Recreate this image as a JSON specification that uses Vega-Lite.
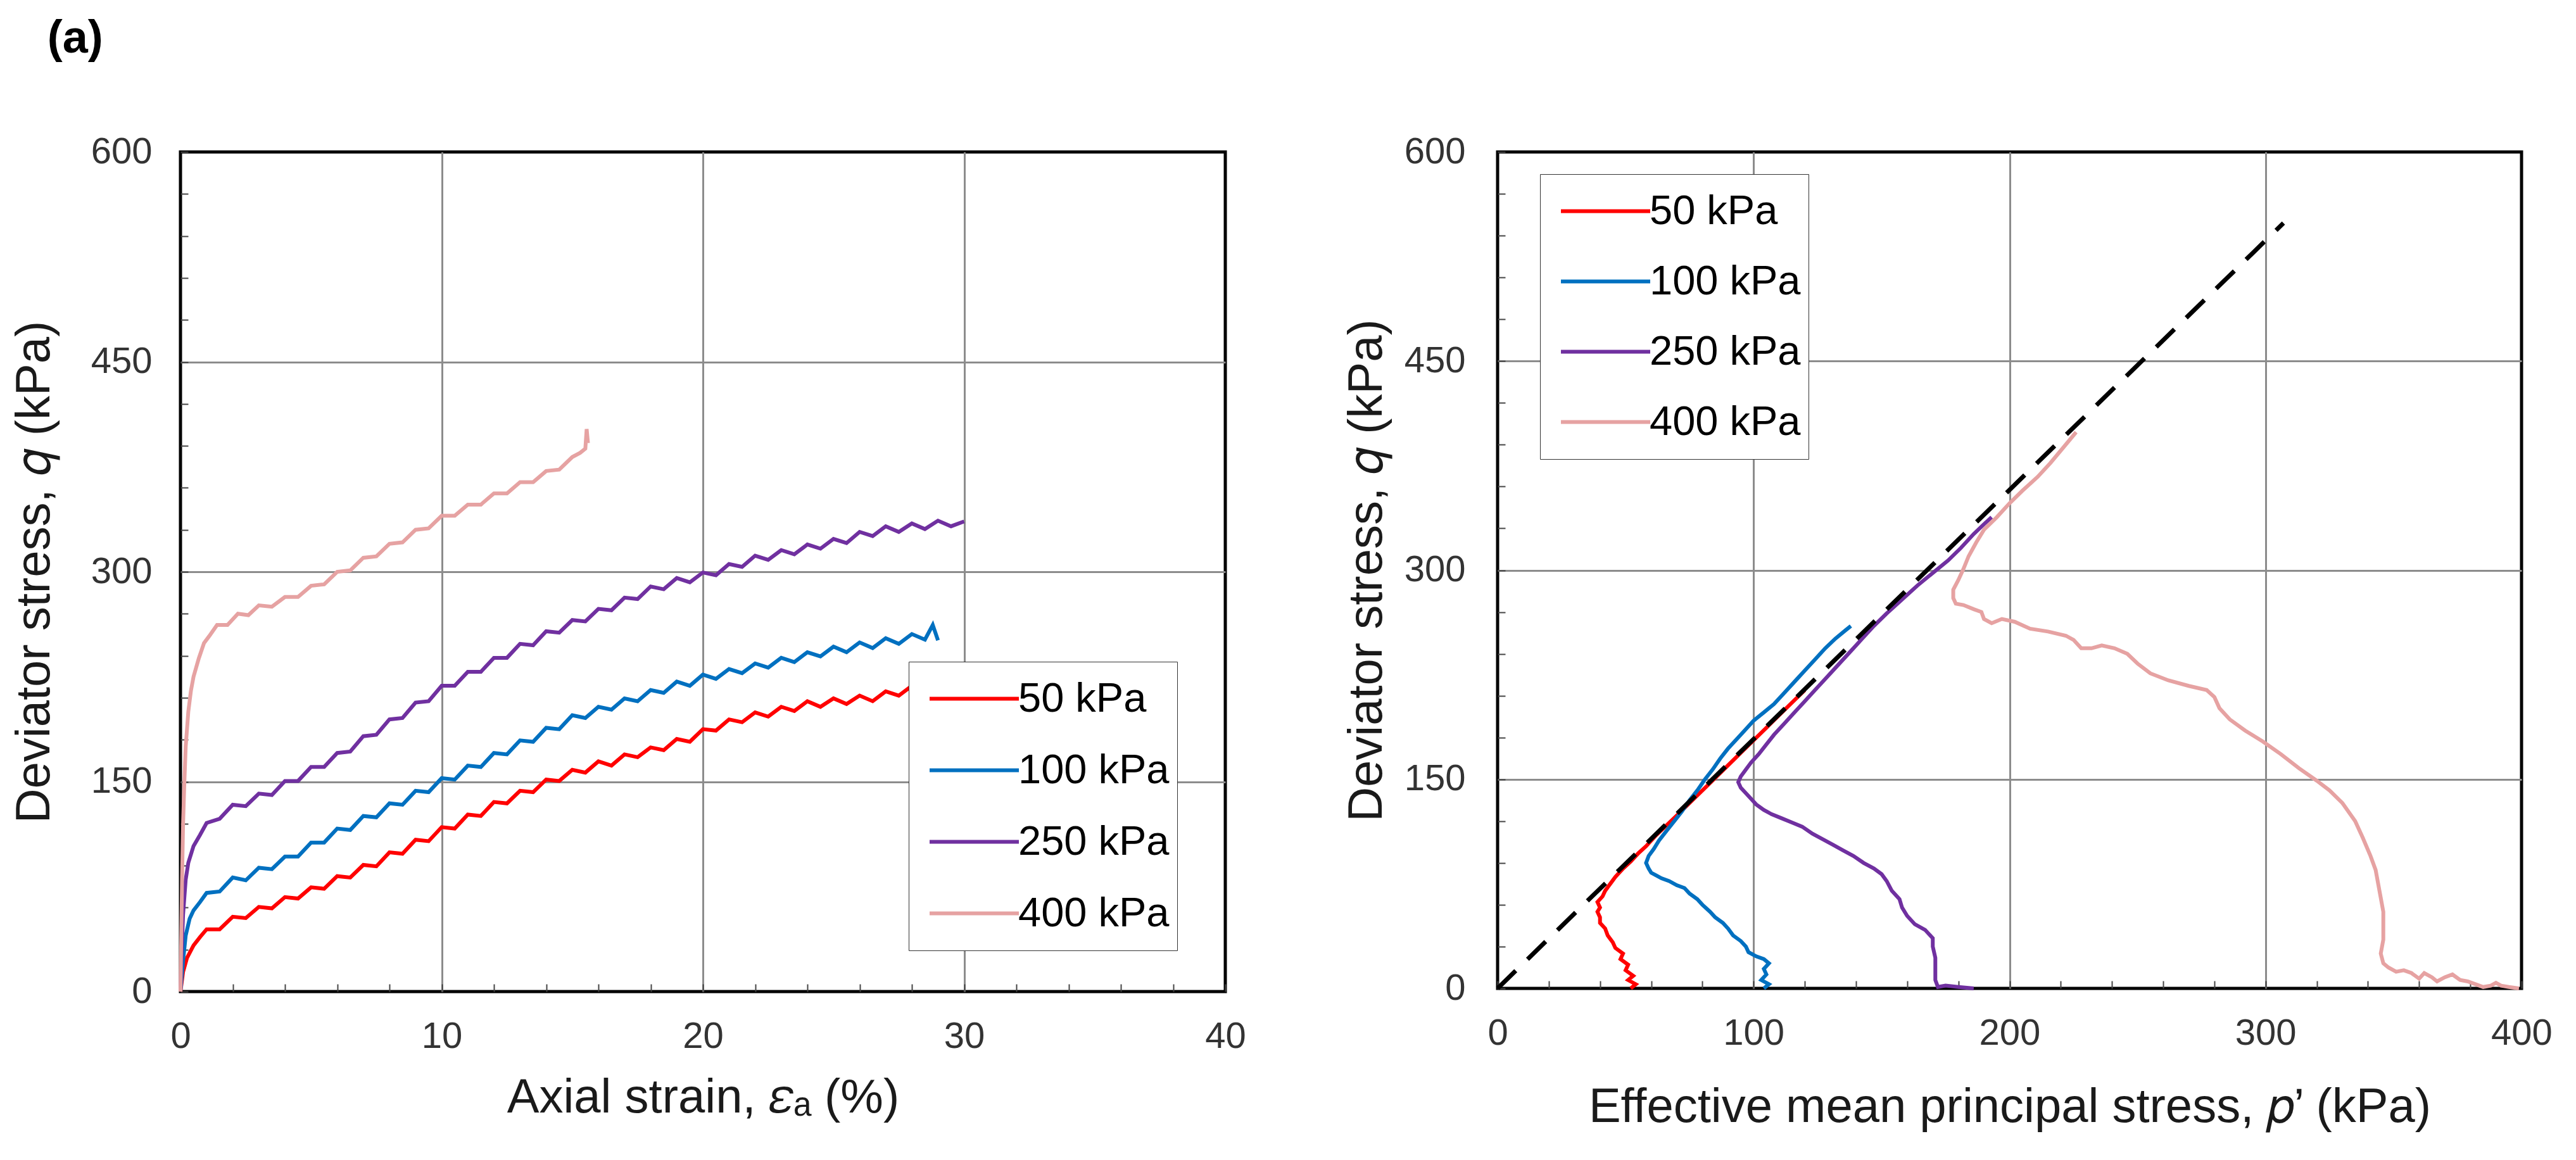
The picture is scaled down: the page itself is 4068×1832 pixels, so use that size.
{
  "$schema": "https://vega.github.io/schema/vega-lite/v6.json",
  "background": "white",
  "padding": {"left": 13, "top": 24, "right": 20, "bottom": 20},
  "title": {
    "text": "(a)",
    "anchor": "start",
    "font": "Liberation Sans",
    "fontSize": 72,
    "fontWeight": "bold",
    "color": "black",
    "dx": 61,
    "offset": 111
  },
  "datasets": {
    "axial": [
      {"test": "50 kPa", "strain": 0, "q": 0}, {"test": "50 kPa", "strain": 0.1, "q": 14}, {"test": "50 kPa", "strain": 0.25, "q": 24}, {"test": "50 kPa", "strain": 0.5, "q": 33}, {"test": "50 kPa", "strain": 0.75, "q": 39}, {"test": "50 kPa", "strain": 1, "q": 44.5}, {"test": "50 kPa", "strain": 1.5, "q": 44.5}, {"test": "50 kPa", "strain": 2, "q": 53.5}, {"test": "50 kPa", "strain": 2.5, "q": 52.5}, {"test": "50 kPa", "strain": 3, "q": 60.5}, {"test": "50 kPa", "strain": 3.5, "q": 59.5}, {"test": "50 kPa", "strain": 4, "q": 67.5}, {"test": "50 kPa", "strain": 4.5, "q": 66.5}, {"test": "50 kPa", "strain": 5, "q": 74.5}, {"test": "50 kPa", "strain": 5.5, "q": 73.5}, {"test": "50 kPa", "strain": 6, "q": 82.5}, {"test": "50 kPa", "strain": 6.5, "q": 81.5}, {"test": "50 kPa", "strain": 7, "q": 90.5}, {"test": "50 kPa", "strain": 7.5, "q": 89.5}, {"test": "50 kPa", "strain": 8, "q": 99.5}, {"test": "50 kPa", "strain": 8.5, "q": 98.5}, {"test": "50 kPa", "strain": 9, "q": 108.5}, {"test": "50 kPa", "strain": 9.5, "q": 107.5}, {"test": "50 kPa", "strain": 10, "q": 117.5}, {"test": "50 kPa", "strain": 10.5, "q": 116.5}, {"test": "50 kPa", "strain": 11, "q": 126.5}, {"test": "50 kPa", "strain": 11.5, "q": 125.5}, {"test": "50 kPa", "strain": 12, "q": 135.5}, {"test": "50 kPa", "strain": 12.5, "q": 134.5}, {"test": "50 kPa", "strain": 13, "q": 143.5}, {"test": "50 kPa", "strain": 13.5, "q": 142.5}, {"test": "50 kPa", "strain": 14, "q": 151.5}, {"test": "50 kPa", "strain": 14.5, "q": 150.5}, {"test": "50 kPa", "strain": 15, "q": 158.5}, {"test": "50 kPa", "strain": 15.5, "q": 156.5}, {"test": "50 kPa", "strain": 16, "q": 164.5}, {"test": "50 kPa", "strain": 16.5, "q": 161.5}, {"test": "50 kPa", "strain": 17, "q": 169.5}, {"test": "50 kPa", "strain": 17.5, "q": 167.5}, {"test": "50 kPa", "strain": 18, "q": 174.5}, {"test": "50 kPa", "strain": 18.5, "q": 172.5}, {"test": "50 kPa", "strain": 19, "q": 180.5}, {"test": "50 kPa", "strain": 19.5, "q": 178.5}, {"test": "50 kPa", "strain": 20, "q": 187.5}, {"test": "50 kPa", "strain": 20.5, "q": 186.5}, {"test": "50 kPa", "strain": 21, "q": 194.5}, {"test": "50 kPa", "strain": 21.5, "q": 192.5}, {"test": "50 kPa", "strain": 22, "q": 199.5}, {"test": "50 kPa", "strain": 22.5, "q": 196.5}, {"test": "50 kPa", "strain": 23, "q": 203.5}, {"test": "50 kPa", "strain": 23.5, "q": 200.5}, {"test": "50 kPa", "strain": 24, "q": 207.5}, {"test": "50 kPa", "strain": 24.5, "q": 203.5}, {"test": "50 kPa", "strain": 25, "q": 209.5}, {"test": "50 kPa", "strain": 25.5, "q": 205.5}, {"test": "50 kPa", "strain": 26, "q": 211.5}, {"test": "50 kPa", "strain": 26.5, "q": 207.5}, {"test": "50 kPa", "strain": 27, "q": 214.5}, {"test": "50 kPa", "strain": 27.5, "q": 211.5}, {"test": "50 kPa", "strain": 28, "q": 218.5}, {"test": "50 kPa", "strain": 28.5, "q": 215.5}, {"test": "50 kPa", "strain": 29, "q": 222},
      {"test": "100 kPa", "strain": 0, "q": 0}, {"test": "100 kPa", "strain": 0.1, "q": 22}, {"test": "100 kPa", "strain": 0.2, "q": 40}, {"test": "100 kPa", "strain": 0.35, "q": 52}, {"test": "100 kPa", "strain": 0.5, "q": 58}, {"test": "100 kPa", "strain": 0.75, "q": 64}, {"test": "100 kPa", "strain": 1, "q": 70.5}, {"test": "100 kPa", "strain": 1.5, "q": 71.5}, {"test": "100 kPa", "strain": 2, "q": 81.5}, {"test": "100 kPa", "strain": 2.5, "q": 79.5}, {"test": "100 kPa", "strain": 3, "q": 88.5}, {"test": "100 kPa", "strain": 3.5, "q": 87.5}, {"test": "100 kPa", "strain": 4, "q": 96.5}, {"test": "100 kPa", "strain": 4.5, "q": 96.5}, {"test": "100 kPa", "strain": 5, "q": 106.5}, {"test": "100 kPa", "strain": 5.5, "q": 106.5}, {"test": "100 kPa", "strain": 6, "q": 116.5}, {"test": "100 kPa", "strain": 6.5, "q": 115.5}, {"test": "100 kPa", "strain": 7, "q": 125.5}, {"test": "100 kPa", "strain": 7.5, "q": 124.5}, {"test": "100 kPa", "strain": 8, "q": 134.5}, {"test": "100 kPa", "strain": 8.5, "q": 133.5}, {"test": "100 kPa", "strain": 9, "q": 143.5}, {"test": "100 kPa", "strain": 9.5, "q": 142.5}, {"test": "100 kPa", "strain": 10, "q": 152.5}, {"test": "100 kPa", "strain": 10.5, "q": 151.5}, {"test": "100 kPa", "strain": 11, "q": 161.5}, {"test": "100 kPa", "strain": 11.5, "q": 160.5}, {"test": "100 kPa", "strain": 12, "q": 170.5}, {"test": "100 kPa", "strain": 12.5, "q": 169.5}, {"test": "100 kPa", "strain": 13, "q": 179.5}, {"test": "100 kPa", "strain": 13.5, "q": 178.5}, {"test": "100 kPa", "strain": 14, "q": 188.5}, {"test": "100 kPa", "strain": 14.5, "q": 187.5}, {"test": "100 kPa", "strain": 15, "q": 197.5}, {"test": "100 kPa", "strain": 15.5, "q": 195.5}, {"test": "100 kPa", "strain": 16, "q": 203.5}, {"test": "100 kPa", "strain": 16.5, "q": 201.5}, {"test": "100 kPa", "strain": 17, "q": 209.5}, {"test": "100 kPa", "strain": 17.5, "q": 207.5}, {"test": "100 kPa", "strain": 18, "q": 215.5}, {"test": "100 kPa", "strain": 18.5, "q": 213.5}, {"test": "100 kPa", "strain": 19, "q": 221.5}, {"test": "100 kPa", "strain": 19.5, "q": 218.5}, {"test": "100 kPa", "strain": 20, "q": 226.5}, {"test": "100 kPa", "strain": 20.5, "q": 223.5}, {"test": "100 kPa", "strain": 21, "q": 230.5}, {"test": "100 kPa", "strain": 21.5, "q": 227.5}, {"test": "100 kPa", "strain": 22, "q": 234.5}, {"test": "100 kPa", "strain": 22.5, "q": 231.5}, {"test": "100 kPa", "strain": 23, "q": 238.5}, {"test": "100 kPa", "strain": 23.5, "q": 235.5}, {"test": "100 kPa", "strain": 24, "q": 242.5}, {"test": "100 kPa", "strain": 24.5, "q": 239.5}, {"test": "100 kPa", "strain": 25, "q": 246.5}, {"test": "100 kPa", "strain": 25.5, "q": 242.5}, {"test": "100 kPa", "strain": 26, "q": 249.5}, {"test": "100 kPa", "strain": 26.5, "q": 245.5}, {"test": "100 kPa", "strain": 27, "q": 252.5}, {"test": "100 kPa", "strain": 27.5, "q": 248.5}, {"test": "100 kPa", "strain": 28, "q": 255.5}, {"test": "100 kPa", "strain": 28.5, "q": 251.5}, {"test": "100 kPa", "strain": 28.8, "q": 262}, {"test": "100 kPa", "strain": 29, "q": 251},
      {"test": "250 kPa", "strain": 0, "q": 0}, {"test": "250 kPa", "strain": 0.05, "q": 30}, {"test": "250 kPa", "strain": 0.1, "q": 55}, {"test": "250 kPa", "strain": 0.2, "q": 80}, {"test": "250 kPa", "strain": 0.3, "q": 92}, {"test": "250 kPa", "strain": 0.5, "q": 104}, {"test": "250 kPa", "strain": 0.75, "q": 112}, {"test": "250 kPa", "strain": 1, "q": 120.5}, {"test": "250 kPa", "strain": 1.5, "q": 123.5}, {"test": "250 kPa", "strain": 2, "q": 133.5}, {"test": "250 kPa", "strain": 2.5, "q": 132.5}, {"test": "250 kPa", "strain": 3, "q": 141.5}, {"test": "250 kPa", "strain": 3.5, "q": 140.5}, {"test": "250 kPa", "strain": 4, "q": 150.5}, {"test": "250 kPa", "strain": 4.5, "q": 150.5}, {"test": "250 kPa", "strain": 5, "q": 160.5}, {"test": "250 kPa", "strain": 5.5, "q": 160.5}, {"test": "250 kPa", "strain": 6, "q": 170.5}, {"test": "250 kPa", "strain": 6.5, "q": 171.5}, {"test": "250 kPa", "strain": 7, "q": 182.5}, {"test": "250 kPa", "strain": 7.5, "q": 183.5}, {"test": "250 kPa", "strain": 8, "q": 194.5}, {"test": "250 kPa", "strain": 8.5, "q": 195.5}, {"test": "250 kPa", "strain": 9, "q": 206.5}, {"test": "250 kPa", "strain": 9.5, "q": 207.5}, {"test": "250 kPa", "strain": 10, "q": 218.5}, {"test": "250 kPa", "strain": 10.5, "q": 218.5}, {"test": "250 kPa", "strain": 11, "q": 228.5}, {"test": "250 kPa", "strain": 11.5, "q": 228.5}, {"test": "250 kPa", "strain": 12, "q": 238.5}, {"test": "250 kPa", "strain": 12.5, "q": 238.5}, {"test": "250 kPa", "strain": 13, "q": 248.5}, {"test": "250 kPa", "strain": 13.5, "q": 247.5}, {"test": "250 kPa", "strain": 14, "q": 257.5}, {"test": "250 kPa", "strain": 14.5, "q": 256.5}, {"test": "250 kPa", "strain": 15, "q": 265.5}, {"test": "250 kPa", "strain": 15.5, "q": 264.5}, {"test": "250 kPa", "strain": 16, "q": 273.5}, {"test": "250 kPa", "strain": 16.5, "q": 272.5}, {"test": "250 kPa", "strain": 17, "q": 281.5}, {"test": "250 kPa", "strain": 17.5, "q": 280.5}, {"test": "250 kPa", "strain": 18, "q": 289.5}, {"test": "250 kPa", "strain": 18.5, "q": 287.5}, {"test": "250 kPa", "strain": 19, "q": 295.5}, {"test": "250 kPa", "strain": 19.5, "q": 292.5}, {"test": "250 kPa", "strain": 20, "q": 299.5}, {"test": "250 kPa", "strain": 20.5, "q": 297.5}, {"test": "250 kPa", "strain": 21, "q": 305.5}, {"test": "250 kPa", "strain": 21.5, "q": 303.5}, {"test": "250 kPa", "strain": 22, "q": 311.5}, {"test": "250 kPa", "strain": 22.5, "q": 308.5}, {"test": "250 kPa", "strain": 23, "q": 315.5}, {"test": "250 kPa", "strain": 23.5, "q": 312.5}, {"test": "250 kPa", "strain": 24, "q": 319.5}, {"test": "250 kPa", "strain": 24.5, "q": 316.5}, {"test": "250 kPa", "strain": 25, "q": 323.5}, {"test": "250 kPa", "strain": 25.5, "q": 320.5}, {"test": "250 kPa", "strain": 26, "q": 328.5}, {"test": "250 kPa", "strain": 26.5, "q": 325.5}, {"test": "250 kPa", "strain": 27, "q": 332.5}, {"test": "250 kPa", "strain": 27.5, "q": 328.5}, {"test": "250 kPa", "strain": 28, "q": 334.5}, {"test": "250 kPa", "strain": 28.5, "q": 330.5}, {"test": "250 kPa", "strain": 29, "q": 336.5}, {"test": "250 kPa", "strain": 29.5, "q": 332.5}, {"test": "250 kPa", "strain": 30, "q": 336},
      {"test": "400 kPa", "strain": 0, "q": 0}, {"test": "400 kPa", "strain": 0.03, "q": 40}, {"test": "400 kPa", "strain": 0.06, "q": 80}, {"test": "400 kPa", "strain": 0.1, "q": 120}, {"test": "400 kPa", "strain": 0.15, "q": 150}, {"test": "400 kPa", "strain": 0.2, "q": 175}, {"test": "400 kPa", "strain": 0.3, "q": 200}, {"test": "400 kPa", "strain": 0.4, "q": 215}, {"test": "400 kPa", "strain": 0.5, "q": 225}, {"test": "400 kPa", "strain": 0.7, "q": 238}, {"test": "400 kPa", "strain": 0.9, "q": 249}, {"test": "400 kPa", "strain": 1.1, "q": 254}, {"test": "400 kPa", "strain": 1.4, "q": 262}, {"test": "400 kPa", "strain": 1.8, "q": 262}, {"test": "400 kPa", "strain": 2.2, "q": 270}, {"test": "400 kPa", "strain": 2.6, "q": 269}, {"test": "400 kPa", "strain": 3, "q": 276}, {"test": "400 kPa", "strain": 3.5, "q": 275}, {"test": "400 kPa", "strain": 4, "q": 282}, {"test": "400 kPa", "strain": 4.5, "q": 282}, {"test": "400 kPa", "strain": 5, "q": 290}, {"test": "400 kPa", "strain": 5.5, "q": 291}, {"test": "400 kPa", "strain": 6, "q": 300}, {"test": "400 kPa", "strain": 6.5, "q": 301}, {"test": "400 kPa", "strain": 7, "q": 310}, {"test": "400 kPa", "strain": 7.5, "q": 311}, {"test": "400 kPa", "strain": 8, "q": 320}, {"test": "400 kPa", "strain": 8.5, "q": 321}, {"test": "400 kPa", "strain": 9, "q": 330}, {"test": "400 kPa", "strain": 9.5, "q": 331}, {"test": "400 kPa", "strain": 10, "q": 340}, {"test": "400 kPa", "strain": 10.5, "q": 340}, {"test": "400 kPa", "strain": 11, "q": 348}, {"test": "400 kPa", "strain": 11.5, "q": 348}, {"test": "400 kPa", "strain": 12, "q": 356}, {"test": "400 kPa", "strain": 12.5, "q": 356}, {"test": "400 kPa", "strain": 13, "q": 364}, {"test": "400 kPa", "strain": 13.5, "q": 364}, {"test": "400 kPa", "strain": 14, "q": 372}, {"test": "400 kPa", "strain": 14.5, "q": 373}, {"test": "400 kPa", "strain": 15, "q": 382}, {"test": "400 kPa", "strain": 15.3, "q": 385}, {"test": "400 kPa", "strain": 15.5, "q": 388}, {"test": "400 kPa", "strain": 15.55, "q": 402}, {"test": "400 kPa", "strain": 15.6, "q": 392}
    ],
    "path": [
      {"test": "50 kPa", "p": 52, "q": 0}, {"test": "50 kPa", "p": 54, "q": 3}, {"test": "50 kPa", "p": 51, "q": 6}, {"test": "50 kPa", "p": 53, "q": 9}, {"test": "50 kPa", "p": 50, "q": 13}, {"test": "50 kPa", "p": 51, "q": 17}, {"test": "50 kPa", "p": 48, "q": 21}, {"test": "50 kPa", "p": 49, "q": 25}, {"test": "50 kPa", "p": 46, "q": 29}, {"test": "50 kPa", "p": 45, "q": 33}, {"test": "50 kPa", "p": 43, "q": 38}, {"test": "50 kPa", "p": 42, "q": 43}, {"test": "50 kPa", "p": 40, "q": 47}, {"test": "50 kPa", "p": 40, "q": 51}, {"test": "50 kPa", "p": 39, "q": 55}, {"test": "50 kPa", "p": 40, "q": 58}, {"test": "50 kPa", "p": 39, "q": 62}, {"test": "50 kPa", "p": 41, "q": 66}, {"test": "50 kPa", "p": 42, "q": 70}, {"test": "50 kPa", "p": 44, "q": 75}, {"test": "50 kPa", "p": 46, "q": 80}, {"test": "50 kPa", "p": 49, "q": 86}, {"test": "50 kPa", "p": 52, "q": 91}, {"test": "50 kPa", "p": 55, "q": 97}, {"test": "50 kPa", "p": 58, "q": 102}, {"test": "50 kPa", "p": 62, "q": 110}, {"test": "50 kPa", "p": 66, "q": 117}, {"test": "50 kPa", "p": 70, "q": 124}, {"test": "50 kPa", "p": 75, "q": 133}, {"test": "50 kPa", "p": 80, "q": 142}, {"test": "50 kPa", "p": 85, "q": 151}, {"test": "50 kPa", "p": 90, "q": 160}, {"test": "50 kPa", "p": 95, "q": 169}, {"test": "50 kPa", "p": 100, "q": 178}, {"test": "50 kPa", "p": 105, "q": 187}, {"test": "50 kPa", "p": 110, "q": 196}, {"test": "50 kPa", "p": 115, "q": 205}, {"test": "50 kPa", "p": 120, "q": 214},
      {"test": "100 kPa", "p": 104, "q": 0}, {"test": "100 kPa", "p": 106, "q": 3}, {"test": "100 kPa", "p": 103, "q": 6}, {"test": "100 kPa", "p": 105, "q": 10}, {"test": "100 kPa", "p": 104, "q": 14}, {"test": "100 kPa", "p": 106, "q": 18}, {"test": "100 kPa", "p": 104, "q": 21}, {"test": "100 kPa", "p": 101, "q": 23}, {"test": "100 kPa", "p": 98, "q": 26}, {"test": "100 kPa", "p": 97, "q": 30}, {"test": "100 kPa", "p": 95, "q": 34}, {"test": "100 kPa", "p": 92, "q": 38}, {"test": "100 kPa", "p": 90, "q": 43}, {"test": "100 kPa", "p": 88, "q": 47}, {"test": "100 kPa", "p": 85, "q": 51}, {"test": "100 kPa", "p": 83, "q": 55}, {"test": "100 kPa", "p": 80, "q": 60}, {"test": "100 kPa", "p": 78, "q": 64}, {"test": "100 kPa", "p": 75, "q": 68}, {"test": "100 kPa", "p": 73, "q": 72}, {"test": "100 kPa", "p": 70, "q": 74}, {"test": "100 kPa", "p": 67, "q": 77}, {"test": "100 kPa", "p": 64, "q": 79}, {"test": "100 kPa", "p": 62, "q": 81}, {"test": "100 kPa", "p": 60, "q": 83}, {"test": "100 kPa", "p": 59, "q": 86}, {"test": "100 kPa", "p": 58, "q": 90}, {"test": "100 kPa", "p": 59, "q": 95}, {"test": "100 kPa", "p": 61, "q": 100}, {"test": "100 kPa", "p": 63, "q": 106}, {"test": "100 kPa", "p": 66, "q": 113}, {"test": "100 kPa", "p": 69, "q": 120}, {"test": "100 kPa", "p": 72, "q": 127}, {"test": "100 kPa", "p": 75, "q": 135}, {"test": "100 kPa", "p": 78, "q": 142}, {"test": "100 kPa", "p": 81, "q": 150}, {"test": "100 kPa", "p": 84, "q": 157}, {"test": "100 kPa", "p": 87, "q": 165}, {"test": "100 kPa", "p": 90, "q": 172}, {"test": "100 kPa", "p": 94, "q": 180}, {"test": "100 kPa", "p": 97, "q": 186}, {"test": "100 kPa", "p": 100, "q": 192}, {"test": "100 kPa", "p": 104, "q": 198}, {"test": "100 kPa", "p": 108, "q": 204}, {"test": "100 kPa", "p": 112, "q": 212}, {"test": "100 kPa", "p": 116, "q": 220}, {"test": "100 kPa", "p": 120, "q": 228}, {"test": "100 kPa", "p": 124, "q": 236}, {"test": "100 kPa", "p": 128, "q": 244}, {"test": "100 kPa", "p": 132, "q": 251}, {"test": "100 kPa", "p": 136, "q": 257}, {"test": "100 kPa", "p": 138, "q": 260},
      {"test": "250 kPa", "p": 186, "q": 0}, {"test": "250 kPa", "p": 180, "q": 1}, {"test": "250 kPa", "p": 175, "q": 2}, {"test": "250 kPa", "p": 172, "q": 1}, {"test": "250 kPa", "p": 171, "q": 6}, {"test": "250 kPa", "p": 171, "q": 14}, {"test": "250 kPa", "p": 171, "q": 22}, {"test": "250 kPa", "p": 170, "q": 30}, {"test": "250 kPa", "p": 170, "q": 36}, {"test": "250 kPa", "p": 167, "q": 42}, {"test": "250 kPa", "p": 163, "q": 46}, {"test": "250 kPa", "p": 160, "q": 52}, {"test": "250 kPa", "p": 158, "q": 58}, {"test": "250 kPa", "p": 157, "q": 64}, {"test": "250 kPa", "p": 154, "q": 70}, {"test": "250 kPa", "p": 152, "q": 77}, {"test": "250 kPa", "p": 150, "q": 82}, {"test": "250 kPa", "p": 147, "q": 86}, {"test": "250 kPa", "p": 143, "q": 90}, {"test": "250 kPa", "p": 139, "q": 95}, {"test": "250 kPa", "p": 135, "q": 99}, {"test": "250 kPa", "p": 131, "q": 103}, {"test": "250 kPa", "p": 127, "q": 107}, {"test": "250 kPa", "p": 123, "q": 111}, {"test": "250 kPa", "p": 119, "q": 116}, {"test": "250 kPa", "p": 115, "q": 119}, {"test": "250 kPa", "p": 111, "q": 122}, {"test": "250 kPa", "p": 107, "q": 125}, {"test": "250 kPa", "p": 104, "q": 128}, {"test": "250 kPa", "p": 101, "q": 132}, {"test": "250 kPa", "p": 99, "q": 136}, {"test": "250 kPa", "p": 97, "q": 140}, {"test": "250 kPa", "p": 95, "q": 144}, {"test": "250 kPa", "p": 94, "q": 148}, {"test": "250 kPa", "p": 95, "q": 152}, {"test": "250 kPa", "p": 97, "q": 157}, {"test": "250 kPa", "p": 99, "q": 162}, {"test": "250 kPa", "p": 102, "q": 168}, {"test": "250 kPa", "p": 105, "q": 175}, {"test": "250 kPa", "p": 108, "q": 182}, {"test": "250 kPa", "p": 112, "q": 190}, {"test": "250 kPa", "p": 116, "q": 198}, {"test": "250 kPa", "p": 120, "q": 206}, {"test": "250 kPa", "p": 124, "q": 214}, {"test": "250 kPa", "p": 128, "q": 222}, {"test": "250 kPa", "p": 132, "q": 230}, {"test": "250 kPa", "p": 137, "q": 240}, {"test": "250 kPa", "p": 142, "q": 250}, {"test": "250 kPa", "p": 147, "q": 260}, {"test": "250 kPa", "p": 152, "q": 269}, {"test": "250 kPa", "p": 158, "q": 279}, {"test": "250 kPa", "p": 164, "q": 289}, {"test": "250 kPa", "p": 170, "q": 298}, {"test": "250 kPa", "p": 176, "q": 307}, {"test": "250 kPa", "p": 181, "q": 316}, {"test": "250 kPa", "p": 186, "q": 326}, {"test": "250 kPa", "p": 190, "q": 333}, {"test": "250 kPa", "p": 193, "q": 338},
      {"test": "400 kPa", "p": 399, "q": 0}, {"test": "400 kPa", "p": 395, "q": 1}, {"test": "400 kPa", "p": 392, "q": 2}, {"test": "400 kPa", "p": 390, "q": 4}, {"test": "400 kPa", "p": 388, "q": 2}, {"test": "400 kPa", "p": 385, "q": 1}, {"test": "400 kPa", "p": 382, "q": 3}, {"test": "400 kPa", "p": 379, "q": 5}, {"test": "400 kPa", "p": 376, "q": 6}, {"test": "400 kPa", "p": 373, "q": 10}, {"test": "400 kPa", "p": 370, "q": 8}, {"test": "400 kPa", "p": 367, "q": 5}, {"test": "400 kPa", "p": 365, "q": 8}, {"test": "400 kPa", "p": 362, "q": 11}, {"test": "400 kPa", "p": 360, "q": 7}, {"test": "400 kPa", "p": 357, "q": 11}, {"test": "400 kPa", "p": 354, "q": 13}, {"test": "400 kPa", "p": 351, "q": 12}, {"test": "400 kPa", "p": 348, "q": 15}, {"test": "400 kPa", "p": 346, "q": 18}, {"test": "400 kPa", "p": 345, "q": 25}, {"test": "400 kPa", "p": 346, "q": 35}, {"test": "400 kPa", "p": 346, "q": 45}, {"test": "400 kPa", "p": 346, "q": 55}, {"test": "400 kPa", "p": 345, "q": 65}, {"test": "400 kPa", "p": 344, "q": 75}, {"test": "400 kPa", "p": 343, "q": 85}, {"test": "400 kPa", "p": 341, "q": 95}, {"test": "400 kPa", "p": 338, "q": 108}, {"test": "400 kPa", "p": 335, "q": 120}, {"test": "400 kPa", "p": 330, "q": 133}, {"test": "400 kPa", "p": 325, "q": 142}, {"test": "400 kPa", "p": 320, "q": 149}, {"test": "400 kPa", "p": 313, "q": 158}, {"test": "400 kPa", "p": 306, "q": 168}, {"test": "400 kPa", "p": 299, "q": 177}, {"test": "400 kPa", "p": 292, "q": 185}, {"test": "400 kPa", "p": 286, "q": 193}, {"test": "400 kPa", "p": 282, "q": 201}, {"test": "400 kPa", "p": 280, "q": 209}, {"test": "400 kPa", "p": 277, "q": 214}, {"test": "400 kPa", "p": 270, "q": 217}, {"test": "400 kPa", "p": 262, "q": 221}, {"test": "400 kPa", "p": 255, "q": 226}, {"test": "400 kPa", "p": 250, "q": 233}, {"test": "400 kPa", "p": 246, "q": 240}, {"test": "400 kPa", "p": 241, "q": 244}, {"test": "400 kPa", "p": 236, "q": 246}, {"test": "400 kPa", "p": 232, "q": 244}, {"test": "400 kPa", "p": 228, "q": 244}, {"test": "400 kPa", "p": 225, "q": 250}, {"test": "400 kPa", "p": 222, "q": 253}, {"test": "400 kPa", "p": 215, "q": 256}, {"test": "400 kPa", "p": 208, "q": 258}, {"test": "400 kPa", "p": 202, "q": 263}, {"test": "400 kPa", "p": 197, "q": 265}, {"test": "400 kPa", "p": 193, "q": 262}, {"test": "400 kPa", "p": 190, "q": 265}, {"test": "400 kPa", "p": 189, "q": 270}, {"test": "400 kPa", "p": 186, "q": 272}, {"test": "400 kPa", "p": 182, "q": 275}, {"test": "400 kPa", "p": 179, "q": 276}, {"test": "400 kPa", "p": 178, "q": 280}, {"test": "400 kPa", "p": 178, "q": 286}, {"test": "400 kPa", "p": 180, "q": 293}, {"test": "400 kPa", "p": 182, "q": 301}, {"test": "400 kPa", "p": 184, "q": 310}, {"test": "400 kPa", "p": 187, "q": 320}, {"test": "400 kPa", "p": 190, "q": 329}, {"test": "400 kPa", "p": 195, "q": 338}, {"test": "400 kPa", "p": 200, "q": 348}, {"test": "400 kPa", "p": 205, "q": 357}, {"test": "400 kPa", "p": 211, "q": 367}, {"test": "400 kPa", "p": 216, "q": 377}, {"test": "400 kPa", "p": 221, "q": 388}, {"test": "400 kPa", "p": 226, "q": 399}
    ],
    "csl": [
      {"p": 0, "q": 0},
      {"p": 307, "q": 549}
    ]
  },
  "spacing": 147,
  "resolve": {"scale": {"color": "independent"}, "legend": {"color": "independent"}},
  "hconcat": [
    {
      "width": 1650,
      "height": 1326,
      "data": {"name": "axial"},
      "mark": {"type": "line", "strokeWidth": 6},
      "encoding": {
        "x": {
          "field": "strain",
          "type": "quantitative",
          "scale": {"domain": [0, 40], "nice": false, "zero": true},
          "axis": {
            "title": "Axial strain, 𝜀ₐ (%)",
            "values": [0, 2, 4, 6, 8, 10, 12, 14, 16, 18, 20, 22, 24, 26, 28, 30, 32, 34, 36, 38, 40],
            "labelExpr": "datum.value % 10 === 0 ? datum.label : ''",
            "gridOpacity": {"condition": {"test": "datum.value % 10 !== 0 || datum.value === 0 || datum.value === 40", "value": 0}, "value": 1},
            "labelPadding": 54,
            "titlePadding": 30
          }
        },
        "y": {
          "field": "q",
          "type": "quantitative",
          "scale": {"domain": [0, 600], "nice": false},
          "axis": {
            "title": "Deviator stress, 𝑞 (kPa)",
            "values": [0, 30, 60, 90, 120, 150, 180, 210, 240, 270, 300, 330, 360, 390, 420, 450, 480, 510, 540, 570, 600],
            "labelExpr": "datum.value % 150 === 0 ? datum.label : ''",
            "gridOpacity": {"condition": {"test": "datum.value % 150 !== 0 || datum.value === 0 || datum.value === 600", "value": 0}, "value": 1},
            "labelPadding": 57,
            "titlePadding": 50
          }
        },
        "color": {
          "field": "test",
          "type": "nominal",
          "scale": {
            "domain": ["50 kPa", "100 kPa", "250 kPa", "400 kPa"],
            "range": ["#FF0000", "#0070C0", "#7030A0", "#E6A2A2"]
          },
          "legend": {"legendX": 1150, "legendY": 805, "rowPadding": 20, "labelExpr": "datum.label + ' '"}
        },
        "order": {"value": null}
      }
    },
    {
      "width": 1617,
      "height": 1321,
      "layer": [
        {
          "data": {"name": "path"},
          "mark": {"type": "line", "strokeWidth": 6},
          "encoding": {
            "x": {
              "field": "p",
              "type": "quantitative",
              "scale": {"domain": [0, 400], "nice": false},
              "axis": {
                "title": "Effective mean principal stress, 𝑝’ (kPa)",
                "values": [0, 20, 40, 60, 80, 100, 120, 140, 160, 180, 200, 220, 240, 260, 280, 300, 320, 340, 360, 380, 400],
                "labelExpr": "datum.value % 100 === 0 ? datum.label : ''",
                "gridOpacity": {"condition": {"test": "datum.value % 100 !== 0 || datum.value === 0 || datum.value === 400", "value": 0}, "value": 1},
                "labelPadding": 54,
                "titlePadding": 50
              }
            },
            "y": {
              "field": "q",
              "type": "quantitative",
              "scale": {"domain": [0, 600], "nice": false},
              "axis": {
                "title": "Deviator stress, 𝑞 (kPa)",
                "values": [0, 30, 60, 90, 120, 150, 180, 210, 240, 270, 300, 330, 360, 390, 420, 450, 480, 510, 540, 570, 600],
                "labelExpr": "datum.value % 150 === 0 ? datum.label : ''",
                "gridOpacity": {"condition": {"test": "datum.value % 150 !== 0 || datum.value === 0 || datum.value === 600", "value": 0}, "value": 1},
                "labelPadding": 63,
                "titlePadding": 20
              }
            },
            "color": {
              "field": "test",
              "type": "nominal",
              "scale": {
                "domain": ["50 kPa", "100 kPa", "250 kPa", "400 kPa"],
                "range": ["#FF0000", "#0070C0", "#7030A0", "#E6A2A2"]
              },
              "legend": {"legendX": 67, "legendY": 35, "rowPadding": 18, "labelExpr": "datum.label + ' '"}
            },
            "order": {"value": null}
          }
        },
        {
          "data": {"name": "csl"},
          "mark": {"type": "line", "color": "black", "strokeWidth": 7, "strokeDash": [40, 26]},
          "encoding": {
            "x": {"field": "p", "type": "quantitative"},
            "y": {"field": "q", "type": "quantitative"}
          }
        }
      ]
    }
  ],
  "config": {
    "view": {"stroke": "black", "strokeWidth": 5},
    "axis": {
      "domain": false,
      "labelFont": "Liberation Sans",
      "labelFontSize": 58,
      "labelColor": "#333333",
      "labelOverlap": false,
      "labelFlush": false,
      "titleFont": "Liberation Sans",
      "titleFontSize": 76,
      "titleFontWeight": "normal",
      "titleColor": "#1a1a1a",
      "gridColor": "#8c8c8c",
      "gridWidth": 3,
      "tickColor": "#444444",
      "tickWidth": 2,
      "tickSize": -12
    },
    "legend": {
      "orient": "none",
      "title": null,
      "symbolType": "stroke",
      "symbolSize": 19881,
      "clipHeight": 93,
      "symbolStrokeWidth": 6,
      "symbolOffset": 18,
      "labelOffset": -4,
      "labelLimit": 600,
      "labelFont": "Liberation Sans",
      "labelFontSize": 65,
      "labelColor": "black",
      "padding": 12,
      "strokeColor": "#333333",
      "fillColor": "white"
    }
  }
}
